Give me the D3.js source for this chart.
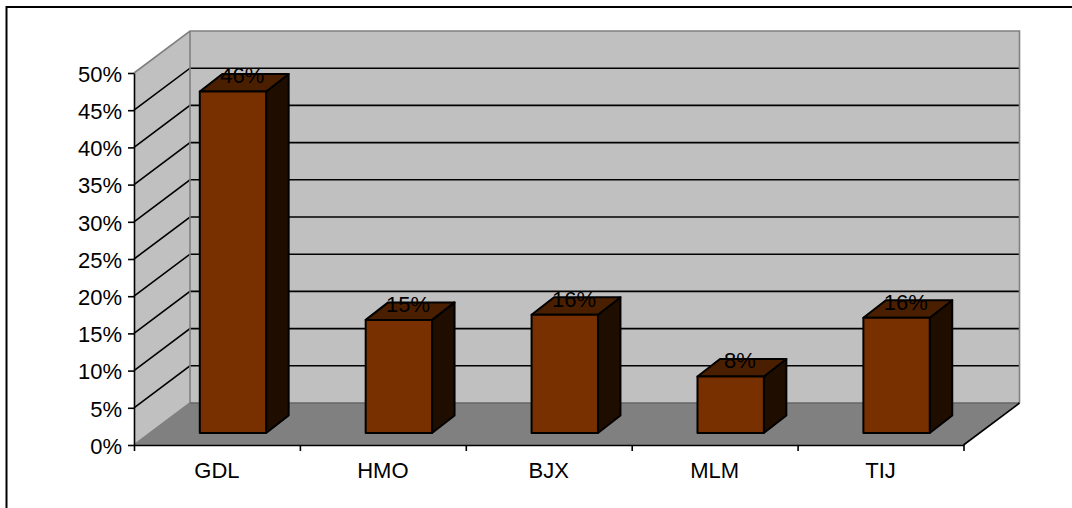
<!DOCTYPE html>
<html>
<head>
<meta charset="utf-8">
<style>
  html, body { margin: 0; padding: 0; background: #fff; overflow: hidden; }
  svg { display: block; }
  text { font-family: "Liberation Sans", Arial, sans-serif; fill: #000; }
</style>
<script src="https://cdn.jsdelivr.net/npm/d3@7"></script>
</head>
<body>
<svg id="chart" width="1072" height="508"></svg>
<script>
// Share of traffic by airport
const airports = ["GDL", "HMO", "BJX", "MLM", "TIJ"];
const shares = [45.9, 15.2, 15.9, 7.6, 15.5];
const percentTicks = [0, 5, 10, 15, 20, 25, 30, 35, 40, 45, 50];

const svg = d3.select("#chart");
const W = 1072, H = 508;

// Front plane of the 3D box, plus the oblique offset of its back plane
const plotL = 134, plotR = 963.5, plotB = 445, plotT = 73;
const depthX = 56, depthY = -42;

const x = d3.scaleBand().domain(airports).range([plotL, plotR])
  .paddingInner(0.6).paddingOuter(0.3);
const y = d3.scaleLinear().domain([0, 50]).range([plotB, plotT]);

// Bars sit part-way into the floor depth
const barNear = 0.286;
const barDepthX = 22.5, barDepthY = -17.5;
const barShiftX = depthX * barNear, barShiftY = depthY * barNear;

const poly = pts => pts.map(p => p.join(",")).join(" ");

// Outer frame, open on the sides cut by the page edge
svg.append("path")
  .attr("d", `M6.5,${H} V7 H${W}`)
  .attr("fill", "none").attr("stroke", "#000").attr("stroke-width", 2);

// Walls and floor
svg.append("polygon")
  .attr("points", poly([[plotL, plotB], [plotL, plotT], [plotL + depthX, plotT + depthY], [plotL + depthX, plotB + depthY]]))
  .attr("fill", "#c0c0c0");
svg.append("rect")
  .attr("x", plotL + depthX).attr("y", plotT + depthY)
  .attr("width", plotR - plotL).attr("height", plotB - plotT)
  .attr("fill", "#c0c0c0");
svg.append("polygon")
  .attr("points", poly([[plotL, plotB], [plotL + depthX, plotB + depthY], [plotR + depthX, plotB + depthY], [plotR, plotB]]))
  .attr("fill", "#808080");

// Gridlines run along the side wall and across the back wall
const gridTicks = percentTicks.filter(t => t > 0 && t < 50);
svg.append("g").selectAll("path").data(gridTicks).join("path")
  .attr("d", t => `M${plotL},${y(t)} L${plotL + depthX},${y(t) + depthY} H${plotR + depthX}`)
  .attr("fill", "none").attr("stroke", "#000").attr("stroke-width", 1.6);

// Wall edges
svg.append("path")
  .attr("d", `M${plotL},${plotT} L${plotL + depthX},${plotT + depthY} H${plotR + depthX} V${plotB + depthY} M${plotL + depthX},${plotT + depthY} V${plotB + depthY} M${plotL},${plotB} L${plotL + depthX},${plotB + depthY}`)
  .attr("fill", "none").attr("stroke", "#808080").attr("stroke-width", 1.6);
svg.append("path")
  .attr("d", `M${plotL + depthX},${plotB + depthY} H${plotR + depthX}`)
  .attr("fill", "none").attr("stroke", "#666").attr("stroke-width", 1.6);
svg.append("path")
  .attr("d", `M${plotR},${plotB} L${plotR + depthX},${plotB + depthY}`)
  .attr("fill", "none").attr("stroke", "#000").attr("stroke-width", 1.6);

// Bars: front, top and side faces
const barData = airports.map((a, i) => ({ a, v: shares[i] }));
const bars = svg.append("g").selectAll("g").data(barData).join("g")
  .attr("stroke", "#000").attr("stroke-width", 2).attr("stroke-linejoin", "round");

const x0 = d => x(d.a) + barShiftX;
const x1 = d => x0(d) + x.bandwidth();
const yBase = plotB + barShiftY;
const yTop = d => y(d.v) + barShiftY;

bars.append("polygon").attr("fill", "#1f0e00")
  .attr("points", d => poly([[x1(d), yTop(d)], [x1(d) + barDepthX, yTop(d) + barDepthY], [x1(d) + barDepthX, yBase + barDepthY], [x1(d), yBase]]));
bars.append("polygon").attr("fill", "#4a1f00")
  .attr("points", d => poly([[x0(d), yTop(d)], [x0(d) + barDepthX, yTop(d) + barDepthY], [x1(d) + barDepthX, yTop(d) + barDepthY], [x1(d), yTop(d)]]));
bars.append("rect").attr("fill", "#783000")
  .attr("x", x0).attr("y", yTop)
  .attr("width", x.bandwidth()).attr("height", d => yBase - yTop(d));

// Value labels above each bar
svg.append("g").selectAll("text").data(barData).join("text")
  .attr("x", d => x0(d) + x.bandwidth() / 2 + barDepthX / 2 - 2)
  .attr("y", d => yTop(d) + barDepthY + 1.5)
  .attr("dy", "0.36em")
  .attr("text-anchor", "middle")
  .attr("font-size", 22)
  .text(d => Math.round(d.v) + "%");

// Axes
const yAxis = d3.axisLeft(y).tickValues(percentTicks).tickFormat(t => t + "%").tickSize(6).tickSizeOuter(0).tickPadding(6);
const gy = svg.append("g").attr("transform", `translate(${plotL},0)`).call(yAxis);
const xAxis = d3.axisBottom(d3.scaleLinear().domain([0, airports.length]).range([plotL, plotR]))
  .tickValues(d3.range(airports.length + 1)).tickFormat("").tickSize(6).tickSizeOuter(0);
const gx = svg.append("g").attr("transform", `translate(0,${plotB})`).call(xAxis);

for (const g of [gy, gx]) {
  g.attr("font-family", null).attr("font-size", null);
  g.selectAll("path, line").attr("stroke", "#000").attr("stroke-width", 1.6);
}
gy.selectAll("text").attr("font-size", 22).attr("dy", "0.38em");

svg.append("g").selectAll("text").data(airports).join("text")
  .attr("x", d => x(d) + x.bandwidth() / 2)
  .attr("y", plotB + 33)
  .attr("text-anchor", "middle")
  .attr("font-size", 22)
  .text(d => d);
</script>
</body>
</html>
